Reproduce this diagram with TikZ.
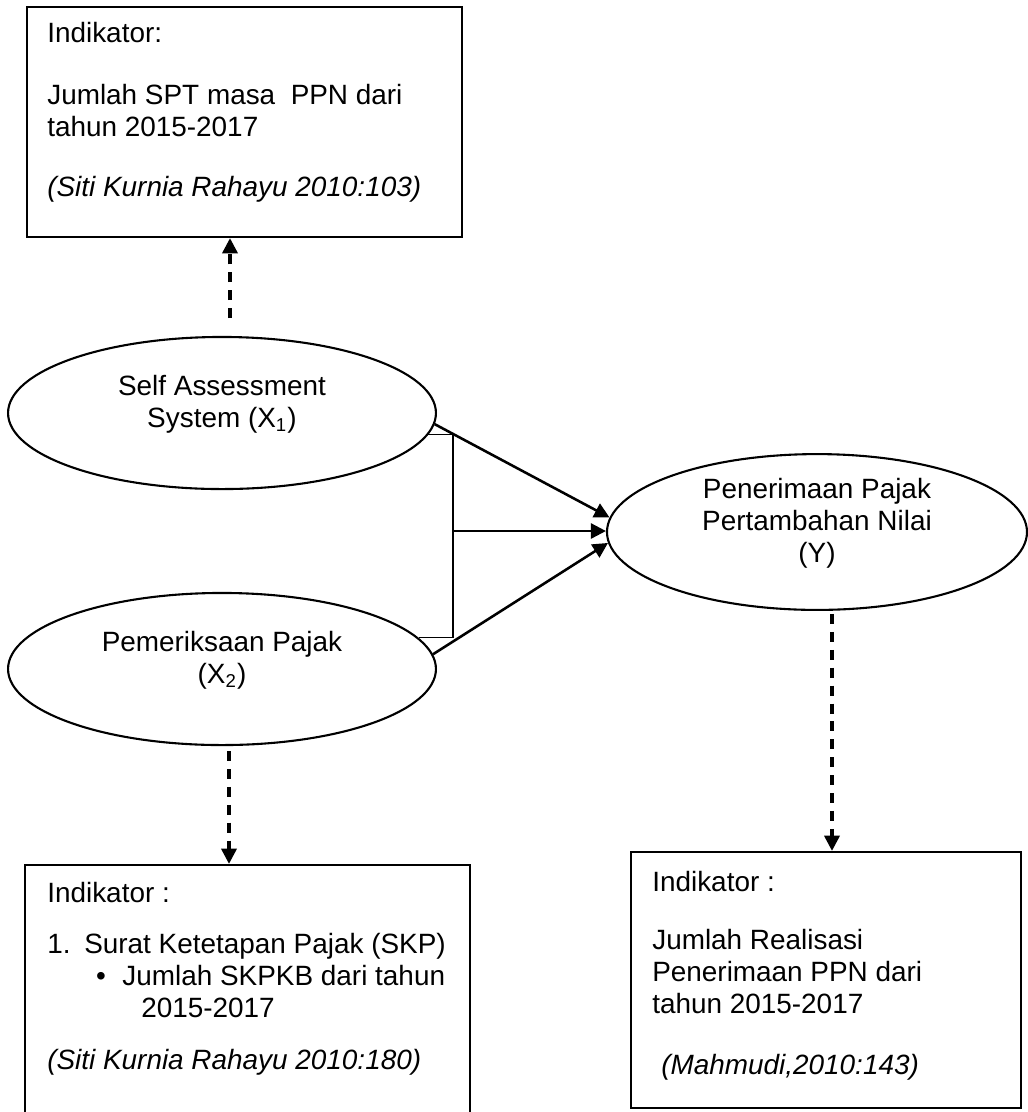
\documentclass[tikz,border=0pt]{standalone}
\usepackage{fontspec}
\setmainfont{Liberation Sans}
\usetikzlibrary{arrows.meta,positioning,fit,calc,shapes.geometric}
\tikzset{
  box/.style={draw,line width=1pt,inner sep=0pt},
  boxtext/.style={anchor=north west,align=left,inner sep=0pt},
  var/.style={draw,ellipse,line width=0.9pt,inner sep=0pt,align=center,text depth=10pt,minimum width=184pt,minimum height=65.4pt},
  arrow/.style={-{Triangle[length=6.5pt,width=6.5pt]},line width=1.1pt},
  dasharrow/.style={-{Triangle[length=6.5pt,width=6.5pt]},line width=1.3pt,dash pattern=on 4.3pt off 3.4pt},
  bracket/.style={line width=0.45pt}
}
\begin{document}
\begin{tikzpicture}[x=0.43pt,y=-0.43pt,font=\fontsize{12}{13.76}\selectfont]
\path[use as bounding box] (0,0) rectangle (1028,1112);
\clip (0,0) rectangle (1028,1112);
% variables
\node[var] (sas) at (222,413) {Self Assessment\\System (X\textsubscript{1})};
\node[var] (pp) at (222,669) {Pemeriksaan Pajak\\(X\textsubscript{2})};
\node[var,minimum width=180.6pt,minimum height=67pt] (ppn) at (817,532) {Penerimaan Pajak\\Pertambahan Nilai\\(Y)};

% indicator boxes
\node[box,fit={(27,7) (462,237)}] (indsas) {};
\node[boxtext] (txtsas) at ($(indsas.north west)+(21,16)$) {Indikator:\\[12.9pt]Jumlah SPT masa\ \ PPN dari\\tahun 2015-2017\\[12pt]\textit{(Siti Kurnia Rahayu 2010:103)}};
\node[box,fit={(25,865) (470,1130)}] (indpp) {};
\node[boxtext] (txtpp) at ($(indpp.north west)+(23,18)$) {Indikator :\\[8.2pt]\makebox[15.9pt][l]{1.}Surat Ketetapan Pajak (SKP)\\\hspace*{21pt}\makebox[11.3pt][l]{\textbullet}Jumlah SKPKB dari tahun\\\hspace*{40.4pt}2015-2017\\[8.6pt]\textit{(Siti Kurnia Rahayu 2010:180)}};
\node[box,fit={(631,852) (1021,1108)}] (indppn) {};
\node[boxtext] (txtppn) at ($(indppn.north west)+(22,20)$) {Indikator :\\[11.2pt]Jumlah Realisasi\\Penerimaan PPN dari\\tahun 2015-2017\\[12.5pt]\hspace*{3.9pt}\textit{(Mahmudi,2010:143)}};

% connectors
\coordinate (jn) at (453,531);
\coordinate (d1) at (230,318);
\coordinate (d2) at ($(pp.south)+(7,5)$);
\coordinate (d3) at ($(ppn.south)+(15,3)$);
\draw[dasharrow] (d1) -- (d1 |- indsas.south);
\draw[dasharrow] (d2) -- (d2 |- indpp.north);
\draw[dasharrow] (d3) -- (d3 |- indppn.north);
\draw[bracket] (sas.-6) -| (jn) |- (pp.9);
\draw[arrow] (sas.-3) -- (ppn.176);
\draw[arrow] (jn) -- (jn -| ppn.west);
\draw[arrow] (pp.4) -- (ppn.183);
\end{tikzpicture}
\end{document}
